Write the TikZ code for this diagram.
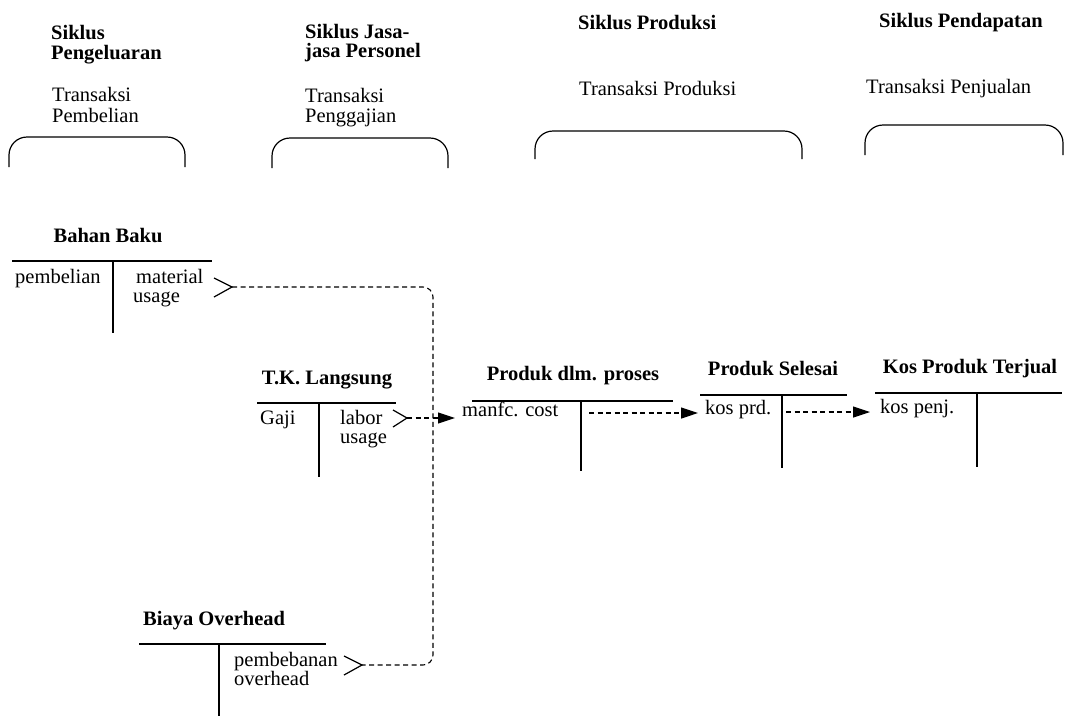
\documentclass[tikz,border=0pt]{standalone}
\usepackage{fontspec}
\setmainfont{Liberation Serif}
\usetikzlibrary{arrows.meta,calc}
\begin{document}
\begin{tikzpicture}[x=1pt,y=-1pt,
  txt/.style={anchor=base west,inner sep=0pt,font=\fontsize{20.5}{21}\selectfont},
  hdr/.style={anchor=base west,inner sep=0pt,font=\fontsize{20.5}{21}\selectfont\bfseries},
  ttl/.style={anchor=base,inner sep=0pt,font=\fontsize{20.5}{21}\selectfont\bfseries},
  acct/.style={line width=1.4pt},
  brace/.style={line width=1.2pt,rounded corners=18pt},
  chev/.style={line width=1.2pt},
  flow/.style={line width=1.1pt,dash pattern=on 5pt off 3.5pt},
  arr/.style={flow,-{Triangle[length=17pt,width=11pt]}}
]
\path[use as bounding box] (0,0) rectangle (1067,716);

% ---- cycle headers ----
\node[hdr] (h1a) at (51,39) {Siklus};
\node[hdr] (h1b) at (51,59) {Pengeluaran};
\node[txt] (t1a) at (52,101) {Transaksi};
\node[txt] (t1b) at (52,122) {Pembelian};
\draw[brace] (9,167) -- (9,137) -- (185,137) -- (185,167);

\node[hdr] (h2a) at (305,38) {Siklus Jasa-};
\node[hdr] (h2b) at (305,57) {jasa Personel};
\node[txt] (t2a) at (305,102) {Transaksi};
\node[txt] (t2b) at (305,122) {Penggajian};
\draw[brace] (272,168) -- (272,138) -- (448,138) -- (448,168);

\node[hdr] (h3) at (578,29) {Siklus Produksi};
\node[txt] (t3) at (579,95) {Transaksi Produksi};
\draw[brace] (535,159) -- (535,131) -- (802,131) -- (802,159);

\node[hdr] (h4) at (879,27) {Siklus Pendapatan};
\node[txt] (t4) at (866,93) {Transaksi Penjualan};
\draw[brace] (865,155) -- (865,125) -- (1063,125) -- (1063,155);

% ---- Bahan Baku ----
\node[ttl] (bb) at (108,242) {Bahan Baku};
\draw[acct] (12,261) -- (212,261);
\draw[acct] (113,261) -- (113,333);
\node[txt] (bbd) at (15,283) {pembelian};
\node[txt] (bbc1) at (136,283) {material};
\node[txt] (bbc2) at (133,302) {usage};
\coordinate (chBB) at (232,287);
\draw[chev] (214,278) -- (chBB) -- (214,297);

% ---- T.K. Langsung ----
\node[ttl] (tk) at (327,384) {T.K. Langsung};
\draw[acct] (257,403) -- (396,403);
\draw[acct] (319,403) -- (319,477);
\node[txt] (tkd) at (260,424) {Gaji};
\node[txt] (tkc1) at (340,424) {labor};
\node[txt] (tkc2) at (340,443) {usage};
\coordinate (chTK) at (407,418);
\draw[chev] (393,410) -- (chTK) -- (393,427);

% ---- Produk dlm. proses ----
\node[ttl] (pdp) at (573,380) {Produk dlm. proses};
\draw[acct] (472,401) -- (673,401);
\draw[acct] (581,401) -- (581,471);
\node[txt] (manfc) at (462,416) {manfc. cost};
\coordinate (sPDP) at (589,413);

% ---- Produk Selesai ----
\node[ttl] (ps) at (773,375) {Produk Selesai};
\draw[acct] (700,395) -- (847,395);
\draw[acct] (782,395) -- (782,468);
\node[txt] (kosprd) at (705,414) {kos prd.};
\coordinate (sPS) at (786,412);

% ---- Kos Produk Terjual ----
\node[ttl] (kpt) at (970,373) {Kos Produk Terjual};
\draw[acct] (875,393) -- (1062,393);
\draw[acct] (977,393) -- (977,467);
\node[txt] (kospenj) at (880,413) {kos penj.};

% ---- Biaya Overhead ----
\node[hdr] (bo) at (143,625) {Biaya Overhead};
\draw[acct] (139,644) -- (326,644);
\draw[acct] (219,644) -- (219,716);
\node[txt] (boc1) at (234,666) {pembebanan};
\node[txt] (boc2) at (234,685) {overhead};
\coordinate (chBO) at (362,665);
\draw[chev] (344,656) -- (chBO) -- (344,675);

% ---- flows ----
\coordinate (lx) at (433,0);
\draw[flow,rounded corners=10pt] (chBB) -- (chBB -| lx) -- (chBO -| lx) -- (chBO);
\draw[arr,shorten >=7pt] (chTK) -- (chTK -| manfc.west);
\draw[arr,shorten >=7pt] (sPDP) -- (sPDP -| kosprd.west);
\draw[arr,shorten >=10pt] (sPS) -- (sPS -| kospenj.west);
\end{tikzpicture}
\end{document}
